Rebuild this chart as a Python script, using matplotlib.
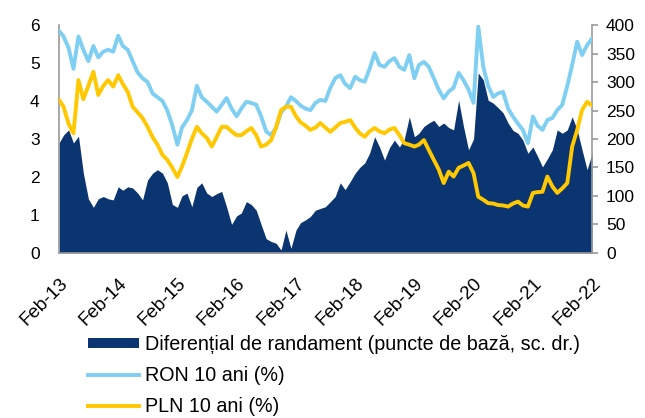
import numpy as np
import pandas as pd
import matplotlib
matplotlib.use("Agg")
import matplotlib.pyplot as plt
import matplotlib.dates as mdates
from matplotlib.patches import Patch
from matplotlib.lines import Line2D

# monthly readings, Feb 2013 .. Feb 2022
dates = pd.date_range("2013-02-01", periods=109, freq="MS")

ron_10y = [
    5.85, 5.70, 5.40, 4.85, 5.70, 5.35, 5.05, 5.45, 5.15, 5.30, 5.35, 5.30,
    5.72, 5.45, 5.35, 5.05, 4.75, 4.60, 4.50, 4.20, 4.10, 4.00, 3.75, 3.35,
    2.85, 3.30, 3.50, 3.75, 4.40, 4.10, 3.98, 3.85, 3.72, 3.90, 4.08, 3.80,
    3.60, 3.80, 3.98, 3.95, 3.90, 3.60, 3.20, 3.10, 3.30, 3.70, 3.85, 4.10,
    4.00, 3.88, 3.80, 3.76, 3.95, 4.03, 4.00, 4.35, 4.60, 4.68, 4.45, 4.34,
    4.64, 4.55, 4.51, 4.85, 5.26, 4.95, 4.90, 5.05, 5.13, 4.90, 4.82, 5.21,
    4.60, 4.95, 5.03, 4.90, 4.60, 4.30, 4.07, 4.25, 4.35, 4.74, 4.55, 4.30,
    3.95, 5.96, 4.90, 4.40, 4.11, 4.20, 4.24, 3.80, 3.59, 3.40, 3.24, 2.89,
    3.59, 3.35, 3.24, 3.50, 3.55, 3.76, 3.90, 4.40, 4.95, 5.56, 5.21, 5.47,
    5.65,
]

pln_10y = [
    4.03, 3.85, 3.40, 3.15, 4.55, 4.05, 4.40, 4.77, 4.16, 4.40, 4.55, 4.38,
    4.68, 4.45, 4.24, 3.85, 3.70, 3.55, 3.32, 3.05, 2.85, 2.58, 2.45, 2.24,
    2.00, 2.27, 2.63, 3.00, 3.32, 3.15, 3.03, 2.80, 3.05, 3.32, 3.32, 3.20,
    3.10, 3.10, 3.20, 3.29, 3.10, 2.80, 2.85, 2.97, 3.30, 3.76, 3.85, 3.85,
    3.60, 3.44, 3.35, 3.24, 3.30, 3.42, 3.30, 3.19, 3.30, 3.42, 3.45, 3.50,
    3.30, 3.15, 3.06, 3.20, 3.29, 3.20, 3.15, 3.25, 3.29, 3.10, 2.89, 2.85,
    2.80, 2.85, 2.97, 2.71, 2.45, 2.20, 1.84, 2.14, 2.01, 2.24, 2.30, 2.37,
    2.10, 1.48, 1.40, 1.31, 1.30, 1.26, 1.25, 1.22, 1.30, 1.35, 1.25, 1.22,
    1.58, 1.60, 1.61, 2.01, 1.75, 1.58, 1.70, 1.84, 2.80, 3.24, 3.76, 3.98,
    3.88,
]

spread_bp = [
    193, 207, 216, 193, 205, 140, 95, 80, 95, 99, 95, 93,
    116, 110, 116, 114, 105, 93, 128, 140, 146, 140, 123, 85,
    80, 100, 105, 81, 115, 123, 105, 99, 104, 108, 81, 50,
    65, 70, 90, 85, 75, 50, 25, 20, 17, 5, 40, 8,
    40, 53, 58, 64, 75, 78, 81, 90, 99, 123, 111, 125,
    140, 150, 158, 175, 204, 186, 163, 185, 198, 186, 200, 239,
    204, 210, 222, 228, 233, 222, 228, 220, 216, 268, 222, 181,
    200, 316, 304, 268, 263, 255, 246, 228, 215, 210, 198, 175,
    186, 170, 151, 165, 181, 216, 210, 216, 239, 216, 181, 146,
    175,
]

labels = [
    "Diferențial de randament (puncte de bază, sc. dr.)",
    "RON 10 ani (%)",
    "PLN 10 ani (%)",
]

navy = "#0b3571"
light_blue = "#7fcff3"
yellow = "#ffc800"
grey = "#9a9a9a"

plt.rcParams["font.family"] = ["Liberation Sans", "DejaVu Sans"]
plt.rcParams["font.size"] = 12.5

fig = plt.figure(figsize=(6.45, 4.18), dpi=100)
ax = fig.add_axes([0.0915, 0.395, 0.8265, 0.545])
ax2 = ax.twinx()
ax.set_zorder(ax2.get_zorder() + 1)
ax.patch.set_visible(False)

# spread area on the right axis
ax2.fill_between(dates, spread_bp, 0, color=navy, linewidth=0)

# yields on the left axis
ax.plot(dates, ron_10y, color=light_blue, lw=2.8, solid_joinstyle="round")
ax.plot(dates, pln_10y, color=yellow, lw=2.8, solid_joinstyle="round")

ax.set_xlim(dates[0], dates[-1])
ax.set_ylim(0, 6)
ax2.set_ylim(0, 400)
ax.set_yticks(range(0, 7))
ax2.set_yticks(range(0, 401, 50))

ax.xaxis.set_major_locator(mdates.MonthLocator(bymonth=2))
ax.xaxis.set_major_formatter(mdates.DateFormatter("%b-%y"))
for lbl in ax.get_xticklabels():
    lbl.set_rotation(45)
    lbl.set_ha("right")
    lbl.set_rotation_mode("anchor")
    lbl.set_fontsize(13.5)

for a in (ax, ax2):
    for s in a.spines.values():
        s.set_visible(False)
for s in ("left", "right", "bottom"):
    ax2.spines[s].set_visible(True)
    ax2.spines[s].set_color(grey)
    ax2.spines[s].set_linewidth(1.2)

ax.tick_params(axis="y", length=0, pad=14)
ax.tick_params(axis="x", length=0, pad=16)
ax2.tick_params(axis="y", length=4, width=1.2, color=grey, pad=6)

handles = [
    Patch(facecolor=navy, edgecolor="none"),
    Line2D([], [], color=light_blue, lw=2.8),
    Line2D([], [], color=yellow, lw=2.8),
]
fig.legend(handles, labels, loc="upper left", bbox_to_anchor=(0.136, 0.198),
           frameon=False, fontsize=14.2, handlelength=2.6, handleheight=0.42,
           handletextpad=0.28, labelspacing=0.6, borderpad=0, borderaxespad=0)

fig.savefig("out.png", dpi=100)
